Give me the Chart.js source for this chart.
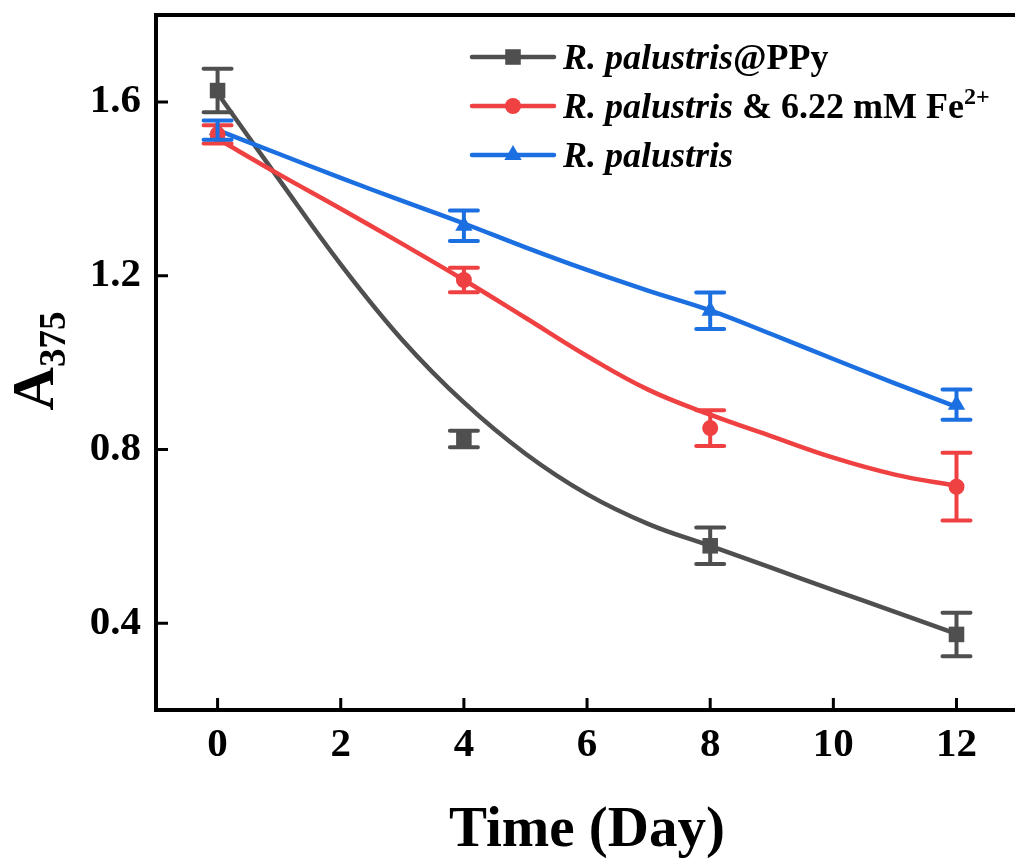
<!DOCTYPE html>
<html>
<head>
<meta charset="utf-8">
<script src="https://cdn.jsdelivr.net/npm/chart.js@4.4.1/dist/chart.umd.min.js"></script>
<style>
  html, body { margin: 0; padding: 0; background: #fff; overflow: hidden; }
  #wrap { width: 1015px; height: 859px; }
</style>
</head>
<body>
<div id="wrap"><canvas id="chart" width="1015" height="859"></canvas></div>
<script>
// sampling days and measured A375 (mean, sd)
const days = [0, 4, 8, 12];
const ppyMean = [1.626, 0.824, 0.578, 0.374];
const ppyErr = [0.050, 0.019, 0.042, 0.050];
const feMean = [1.525, 1.190, 0.849, 0.714];
const feErr = [0.021, 0.028, 0.041, 0.078];
const bareMean = [1.535, 1.315, 1.119, 0.903];
const bareErr = [0.022, 0.035, 0.042, 0.035];

// fitted decay curves, one value per day
const fitDays = [0, 1, 2, 3, 4, 5, 6, 7, 8, 9, 10, 11, 12];
const ppyFit = [1.620, 1.421, 1.226, 1.052, 0.908, 0.790, 0.697, 0.628, 0.578, 0.527, 0.476, 0.426, 0.375];
const feFit = [1.515, 1.433, 1.354, 1.273, 1.190, 1.103, 1.015, 0.937, 0.880, 0.830, 0.781, 0.742, 0.716];
const bareFit = [1.535, 1.480, 1.425, 1.372, 1.320, 1.265, 1.213, 1.165, 1.120, 1.065, 1.008, 0.952, 0.898];

const xTicks = [0, 2, 4, 6, 8, 10, 12];
const yTicks = [0.4, 0.8, 1.2, 1.6];

const GRAY = '#4f4f4f';
const RED = '#ef4142';
const BLUE = '#1b6fe0';
const SERIF = '"Liberation Serif", "Times New Roman", serif';

function pts(xs, ys) {
  return xs.map((x, i) => ({ x: x, y: ys[i] }));
}

function fitLine(ys, color, order) {
  return {
    type: 'line', data: pts(fitDays, ys), borderColor: color, borderWidth: 4.5,
    pointRadius: 0, tension: 0.4, fill: false, order: order
  };
}

function markers(ys, errs, color, style, radius) {
  return {
    type: 'line', data: pts(days, ys), errors: errs, showLine: false,
    pointStyle: style, pointRadius: radius, backgroundColor: color,
    borderColor: color, borderWidth: 0, order: 0
  };
}

// legend rows: [color, point style, radius, text pieces]
const legendRows = [
  [GRAY, 'rect', 11, [['R. palustris', 'italic'], ['@PPy', 'normal']]],
  [RED, 'circle', 8, [['R. palustris', 'italic'], [' & 6.22 mM Fe', 'normal'], ['2+', 'sup']]],
  [BLUE, 'triangle', 10, [['R. palustris', 'italic']]]
];

const errorBars = {
  id: 'errorBars',
  afterDatasetsDraw(chart) {
    const { ctx, scales: { x, y } } = chart;
    ctx.save();
    chart.data.datasets.forEach(ds => {
      if (!ds.errors) return;
      ctx.strokeStyle = ds.borderColor;
      ctx.lineWidth = 4;
      ctx.lineCap = 'round';
      ds.data.forEach((p, i) => {
        const px = x.getPixelForValue(p.x);
        const top = y.getPixelForValue(p.y + ds.errors[i]);
        const bot = y.getPixelForValue(p.y - ds.errors[i]);
        ctx.beginPath();
        ctx.moveTo(px, top); ctx.lineTo(px, bot);
        ctx.moveTo(px - 14, top); ctx.lineTo(px + 14, top);
        ctx.moveTo(px - 14, bot); ctx.lineTo(px + 14, bot);
        ctx.stroke();
      });
    });
    ctx.restore();
  }
};

const frame = {
  id: 'frame',
  afterDraw(chart) {
    const { ctx, chartArea: a, scales: { x, y } } = chart;
    ctx.save();
    ctx.strokeStyle = '#000';
    ctx.lineCap = 'butt';

    // inward ticks
    ctx.lineWidth = 3;
    ctx.beginPath();
    xTicks.forEach(v => {
      const px = x.getPixelForValue(v);
      ctx.moveTo(px, a.bottom); ctx.lineTo(px, a.bottom - 12);
    });
    yTicks.forEach(v => {
      const py = y.getPixelForValue(v);
      ctx.moveTo(a.left, py); ctx.lineTo(a.left + 12, py);
    });
    ctx.stroke();

    // open frame: top, left, bottom
    ctx.lineWidth = 4;
    ctx.beginPath();
    ctx.moveTo(a.right + 10, a.top);
    ctx.lineTo(a.left, a.top);
    ctx.lineTo(a.left, a.bottom);
    ctx.lineTo(a.right + 10, a.bottom);
    ctx.stroke();

    // axis titles
    ctx.fillStyle = '#000';
    ctx.textBaseline = 'alphabetic';
    ctx.textAlign = 'center';
    ctx.font = 'bold 57px ' + SERIF;
    ctx.fillText('Time (Day)', 587, 846);

    ctx.save();
    ctx.translate(53, 361);
    ctx.rotate(-Math.PI / 2);
    ctx.textAlign = 'left';
    ctx.font = 'bold 60px ' + SERIF;
    const wA = ctx.measureText('A').width;
    ctx.font = 'bold 37px ' + SERIF;
    const wSub = ctx.measureText('375').width;
    const start = -(wA + wSub) / 2;
    ctx.font = 'bold 60px ' + SERIF;
    ctx.fillText('A', start, 0);
    ctx.font = 'bold 37px ' + SERIF;
    ctx.fillText('375', start + wA, 12);
    ctx.restore();

    // legend
    const rowY = [57, 106, 155];
    legendRows.forEach((row, r) => {
      const [color, style, radius, parts] = row;
      const ly = rowY[r];
      ctx.strokeStyle = color;
      ctx.lineWidth = 4.5;
      ctx.lineCap = 'round';
      ctx.beginPath();
      ctx.moveTo(472, ly); ctx.lineTo(554, ly);
      ctx.stroke();
      ctx.fillStyle = color;
      Chart.helpers.drawPoint(ctx, { pointStyle: style, radius: radius, borderWidth: 0 }, 513, ly);

      ctx.fillStyle = '#000';
      ctx.textAlign = 'left';
      let tx = 563;
      const base = ly + 12;
      parts.forEach(([txt, kind]) => {
        if (kind === 'italic') ctx.font = 'italic bold 36px ' + SERIF;
        else if (kind === 'sup') ctx.font = 'bold 24px ' + SERIF;
        else ctx.font = 'bold 36px ' + SERIF;
        ctx.fillText(txt, tx, kind === 'sup' ? base - 14 : base);
        tx += ctx.measureText(txt).width;
      });
    });
    ctx.restore();
  }
};

const tickFont = { family: SERIF, weight: 'bold', size: 41 };

new Chart(document.getElementById('chart'), {
  type: 'line',
  data: {
    datasets: [
      markers(ppyMean, ppyErr, GRAY, 'rect', 11),
      markers(feMean, feErr, RED, 'circle', 8),
      markers(bareMean, bareErr, BLUE, 'triangle', 10),
      fitLine(ppyFit, GRAY, 3),
      fitLine(feFit, RED, 2),
      fitLine(bareFit, BLUE, 1)
    ]
  },
  options: {
    responsive: false,
    animation: false,
    layout: { autoPadding: false, padding: { top: 15, right: 0, left: 0, bottom: 0 } },
    plugins: { legend: { display: false }, tooltip: { enabled: false } },
    scales: {
      x: {
        type: 'linear', min: -1, max: 12.95,
        afterBuildTicks: s => { s.ticks = xTicks.map(v => ({ value: v })); },
        afterFit: s => { s.height = 149; s.paddingLeft = 0; s.paddingRight = 0; },
        grid: { display: false, drawTicks: false },
        border: { display: false },
        ticks: { font: tickFont, color: '#000', padding: 11, maxRotation: 0, autoSkip: false }
      },
      y: {
        type: 'linear', min: 0.2, max: 1.8,
        afterBuildTicks: s => { s.ticks = yTicks.map(v => ({ value: v })); },
        afterFit: s => { s.width = 156; s.paddingTop = 0; s.paddingBottom = 0; },
        grid: { display: false, drawTicks: false },
        border: { display: false },
        ticks: { font: tickFont, color: '#000', padding: 15, callback: v => v.toFixed(1) }
      }
    }
  },
  plugins: [errorBars, frame]
});
</script>
</body>
</html>
